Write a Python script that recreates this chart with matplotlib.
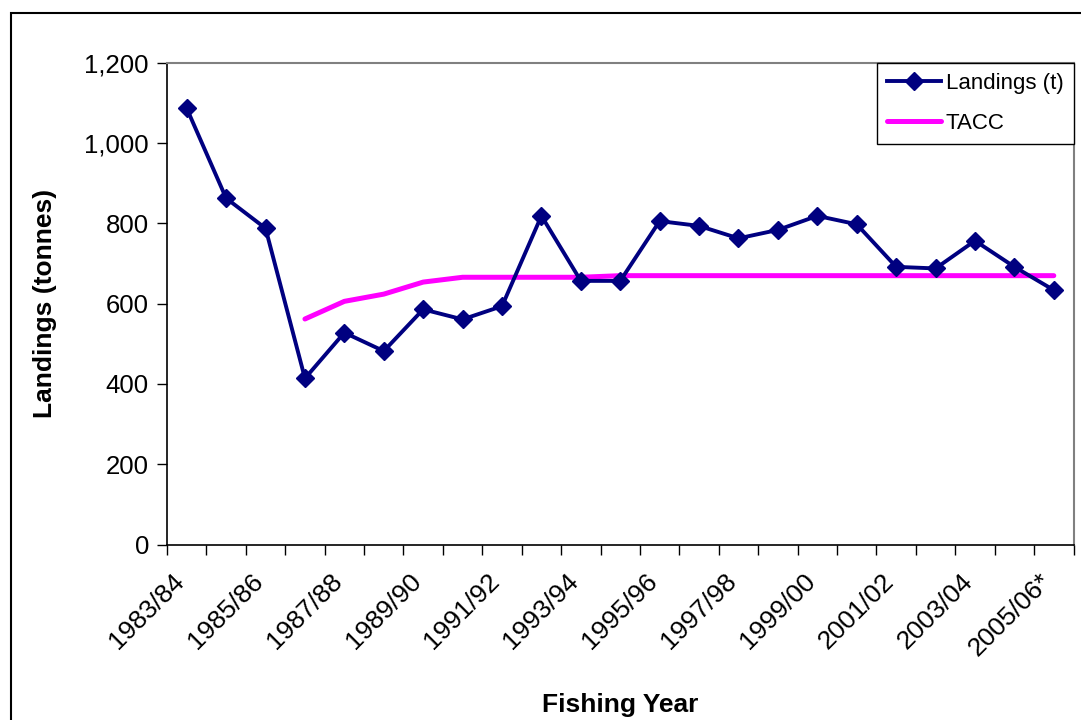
import numpy as np
import matplotlib
matplotlib.use("Agg")
import matplotlib.pyplot as plt
from matplotlib.patches import Rectangle
from matplotlib.transforms import ScaledTranslation

plt.rcParams['font.family'] = ['Liberation Sans', 'DejaVu Sans']

# fishing years and landings (tonnes)
years = ['1983/84', '1984/85', '1985/86', '1986/87', '1987/88', '1988/89',
         '1989/90', '1990/91', '1991/92', '1992/93', '1993/94', '1994/95',
         '1995/96', '1996/97', '1997/98', '1998/99', '1999/00', '2000/01',
         '2001/02', '2002/03', '2003/04', '2004/05', '2005/06*']
landings = [1087, 863, 788, 414, 528, 482, 586, 561, 594, 819, 657, 657,
            806, 794, 763, 784, 819, 798, 692, 688, 757, 692, 634]
tacc = [np.nan, np.nan, np.nan, 562, 606, 624, 654, 666, 666, 666, 666, 670,
        670, 670, 670, 670, 670, 670, 670, 670, 670, 670, 670]
yticks = [0, 200, 400, 600, 800, 1000, 1200]

fig = plt.figure(figsize=(10.81, 7.2), dpi=100)
W, H = 1081, 720
ax = fig.add_axes([167 / W, 1 - 544.5 / H, (1073.5 - 167) / W, (544.5 - 63) / H])

x = np.arange(len(years))
ax.plot(x, landings, color='#000080', lw=2.8, marker='D', markersize=9,
        label='Landings (t)', zorder=3)
ax.plot(x, tacc, color='#FF00FF', lw=3.6, solid_capstyle='round',
        label='TACC', zorder=2)

ax.set_xlim(-0.5, len(years) - 0.5)
ax.set_ylim(0, 1200)
ax.set_yticks(yticks)
ax.set_yticklabels(['{:,}'.format(v) for v in yticks])

# category boundary ticks, labels every second year
ax.set_xticks(np.arange(-0.5, len(years)))
ax.set_xticklabels([])
ax.set_xticks(x[::2], minor=True)
ax.set_xticklabels(years[::2], minor=True, rotation=45, ha='right',
                   va='center', rotation_mode='anchor', fontsize=19)
ax.tick_params(axis='x', which='minor', length=0, pad=24)
ax.tick_params(axis='x', which='major', length=7, width=1, direction='out')
ax.tick_params(axis='y', length=7, width=1, direction='out', labelsize=18.5, pad=6)
shift = ScaledTranslation(-6 / 100, 0, fig.dpi_scale_trans)
for lab in ax.get_xticklabels(minor=True):
    lab.set_transform(lab.get_transform() + shift)

for s in ['left', 'bottom']:
    ax.spines[s].set_color('black')
    ax.spines[s].set_linewidth(1.2)
for s in ['top', 'right']:
    ax.spines[s].set_color('#808080')
    ax.spines[s].set_linewidth(1.5)

ax.set_xlabel('Fishing Year', fontsize=19, fontweight='bold')
ax.xaxis.set_label_coords(0.5, -0.308)
ax.set_ylabel('Landings (tonnes)', fontsize=19, fontweight='bold')
ax.yaxis.set_label_coords(-0.121, 0.5)

leg = ax.legend(loc='upper right', bbox_to_anchor=(1.0, 1.0), borderaxespad=0,
                fontsize=16, fancybox=False, framealpha=1, edgecolor='black',
                handlelength=2.45, handletextpad=0.2, borderpad=0.45,
                labelspacing=0.85)
leg.get_frame().set_linewidth(1.0)

# outer chart border
fig.add_artist(Rectangle((11 / W, -0.1), 1.2, (H - 13) / H + 0.1,
                         transform=fig.transFigure, fill=False,
                         edgecolor='black', lw=1.5))

fig.savefig('out.png', dpi=100)
